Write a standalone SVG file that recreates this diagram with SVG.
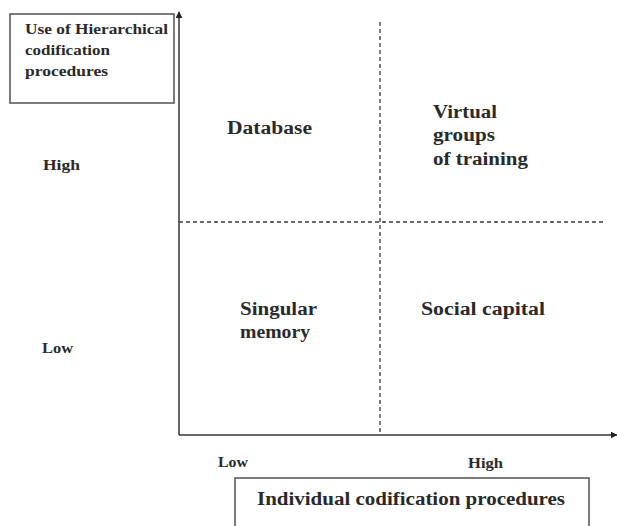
<svg xmlns="http://www.w3.org/2000/svg" width="617" height="526" viewBox="0 0 617 526">
  <style>
    .t { font-family: "Liberation Serif", "Times New Roman", serif; font-weight: bold; fill: #2a2a2a; }
    .q { font-size: 18px; }
    .s { font-size: 15px; }
    .box { fill: #ffffff; stroke: #5a5a5a; stroke-width: 1.6; }
    .axis { stroke: #333333; stroke-width: 1.5; fill: none; }
    .dash { stroke: #3a3a3a; stroke-width: 1.3; stroke-dasharray: 4 3; fill: none; }
  </style>
  <defs>
    <marker id="arrow" viewBox="0 0 10 10" refX="9" refY="5" markerWidth="7" markerHeight="7" markerUnits="userSpaceOnUse" orient="auto">
      <path d="M0,0 L10,5 L0,10 Z" fill="#222222"/>
    </marker>
  </defs>
  <rect width="617" height="526" fill="#ffffff"/>

  <g id="connectors">
    <line class="axis" x1="179" y1="435" x2="179" y2="12" marker-end="url(#arrow)"/>
    <line class="axis" x1="179" y1="435" x2="617" y2="435" marker-end="url(#arrow)"/>
    <line class="dash" x1="380" y1="22" x2="380" y2="435"/>
    <line class="dash" x1="179" y1="222" x2="604" y2="222"/>
  </g>

  <g id="y-axis-title">
    <rect class="box" x="10" y="14" width="164" height="89"/>
    <text class="t s" x="25" y="34" textLength="143" lengthAdjust="spacingAndGlyphs">Use of Hierarchical</text>
    <text class="t s" x="25" y="55" textLength="85" lengthAdjust="spacingAndGlyphs">codification</text>
    <text class="t s" x="25" y="76" textLength="83" lengthAdjust="spacingAndGlyphs">procedures</text>
  </g>

  <g id="y-high"><text class="t s" x="43" y="170" textLength="37" lengthAdjust="spacingAndGlyphs">High</text></g>
  <g id="y-low"><text class="t s" x="42" y="353" textLength="31" lengthAdjust="spacingAndGlyphs">Low</text></g>
  <g id="x-low"><text class="t s" x="218" y="467" textLength="30" lengthAdjust="spacingAndGlyphs">Low</text></g>
  <g id="x-high"><text class="t s" x="468" y="468" textLength="35" lengthAdjust="spacingAndGlyphs">High</text></g>

  <g id="x-axis-title">
    <rect class="box" x="235" y="478" width="354" height="60"/>
    <text class="t q" x="257" y="505" textLength="308" lengthAdjust="spacingAndGlyphs">Individual codification procedures</text>
  </g>

  <g id="database">
    <text class="t q" x="227" y="134" textLength="85" lengthAdjust="spacingAndGlyphs">Database</text>
  </g>

  <g id="virtual-groups">
    <text class="t q" x="433" y="118" textLength="64" lengthAdjust="spacingAndGlyphs">Virtual</text>
    <text class="t q" x="433" y="141" textLength="62" lengthAdjust="spacingAndGlyphs">groups</text>
    <text class="t q" x="433" y="165" textLength="95" lengthAdjust="spacingAndGlyphs">of training</text>
  </g>

  <g id="singular-memory">
    <text class="t q" x="240" y="315" textLength="77" lengthAdjust="spacingAndGlyphs">Singular</text>
    <text class="t q" x="240" y="338" textLength="70" lengthAdjust="spacingAndGlyphs">memory</text>
  </g>

  <g id="social-capital">
    <text class="t q" x="421" y="315" textLength="124" lengthAdjust="spacingAndGlyphs">Social capital</text>
  </g>
</svg>
